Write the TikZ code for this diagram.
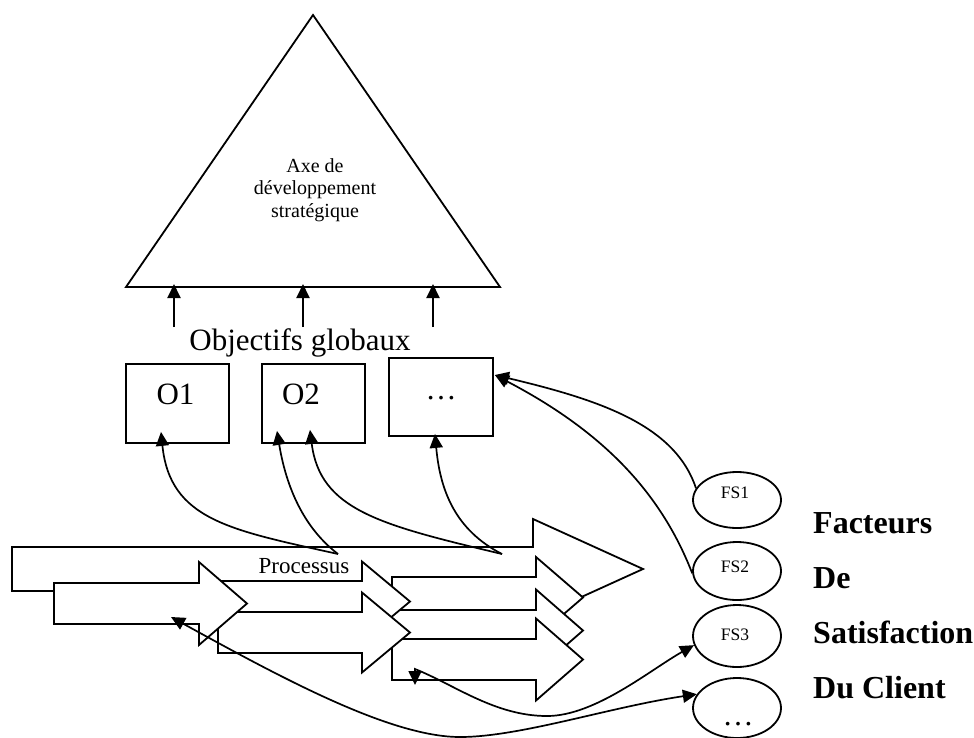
\documentclass[tikz,border=0pt]{standalone}
\usepackage{fontspec}
\setmainfont{Liberation Serif}
\usetikzlibrary{arrows.meta,shapes.geometric,calc}

% font sizes (1pt = 1px of the drawing)
\newcommand\axefont{\fontsize{20}{22.5}\selectfont}
\newcommand\bigfont{\fontsize{31}{34}\selectfont}
\newcommand\procfont{\fontsize{23}{26}\selectfont}
\newcommand\fsfont{\fontsize{17.5}{20}\selectfont}
\newcommand\sidefont{\fontsize{32}{36}\selectfont\bfseries}

% one block arrow: left x, centre y, half body height, notch x, half head height, tip x
\newcommand\flowarrow[6]{%
  \draw[procshape] (#1,#2-#3) -- (#4,#2-#3) -- (#4,#2-#5) -- (#6,#2)
     -- (#4,#2+#5) -- (#4,#2+#3) -- (#1,#2+#3) -- cycle;}

\tikzset{
  outline/.style={draw, line width=1.8pt, line join=miter},
  procshape/.style={outline, fill=white},
  objbox/.style={outline, rectangle, inner sep=0pt, fill=white},
  fsell/.style={outline, ellipse, inner sep=0pt, fill=white, minimum width=88pt},
  link/.style={draw, line width=1.7pt, -{Triangle[length=14pt,width=13pt]}},
  bilink/.style={draw, line width=1.7pt,
     {Triangle[length=14pt,width=13pt]}-{Triangle[length=14pt,width=13pt]}},
  uparrow/.style={draw, line width=1.9pt, -{Triangle[length=14pt,width=13pt]}},
  txt/.style={inner sep=0pt, anchor=base},
}

\begin{document}
\begin{tikzpicture}[x=1pt,y=-1pt]
\useasboundingbox (0,0) rectangle (974,737);
\fill[white] (0,0) rectangle (974,737);

% strategic triangle
\coordinate (apex) at (313,15);
\coordinate (baseL) at (126,287);
\coordinate (baseR) at (500,287);
\draw[outline] (baseL) -- (apex) -- (baseR) -- cycle;
\node[align=center, font=\axefont] (axe) at (315,190)
  {Axe de\\développement\\stratégique};

% objectives feeding the triangle
\foreach \i/\x in {1/174,2/303,3/433}{
  \coordinate (up\i) at (\x,327);
  \coordinate (in\i) at (\x,284);
  \draw[uparrow] (up\i) -- (in\i);
}
\node[txt, font=\bigfont] (og) at (300,350) {Objectifs globaux};

\node[objbox, minimum width=103pt, minimum height=79pt] (O1) at (177.5,403.5) {};
\node[objbox, minimum width=103pt, minimum height=79pt] (O2) at (313.5,403.5) {};
\node[objbox, minimum width=104pt, minimum height=78pt] (O3) at (441,397) {};
\node[txt, font=\bigfont] (O1t) at (175.5,404) {O1};
\node[txt, font=\bigfont] (O2t) at (301,404) {O2};
\node[txt, font=\bigfont] (O3t) at (441,399) {…};

% process arrows, back to front
\flowarrow{12}{569}{22}{533}{50}{643}
\flowarrow{392}{597.5}{20.5}{536}{40.5}{583}
\flowarrow{392}{630.5}{20.5}{536}{41}{583}
\flowarrow{392}{659.5}{20.5}{536}{41}{583}
\flowarrow{218}{601.5}{20.5}{362}{40}{410}
\flowarrow{218}{632.5}{20.5}{362}{40}{410}
\flowarrow{54}{603.5}{20.5}{199}{41.5}{247}
\node[txt, font=\procfont] (proc) at (304,573) {Processus};

% satisfaction factors
\node[fsell, minimum height=56pt] (FS1) at (737,500) {};
\node[fsell, minimum height=58pt] (FS2) at (737,571) {};
\node[fsell, minimum height=62pt] (FS3) at (737,636) {};
\node[fsell, minimum height=60pt] (FS4) at (737,708) {};
\node[txt, font=\fsfont] (FS1t) at (735,498) {FS1};
\node[txt, font=\fsfont] (FS2t) at (735,572) {FS2};
\node[txt, font=\fsfont] (FS3t) at (735,640) {FS3};
\node[txt, font=\bigfont] (FS4t) at (738,725) {…};

\node[txt, anchor=base west, font=\sidefont] (l1) at (813,533) {Facteurs};
\node[txt, anchor=base west, font=\sidefont] (l2) at (813,588) {De};
\node[txt, anchor=base west, font=\sidefont] (l3) at (813,643) {Satisfaction};
\node[txt, anchor=base west, font=\sidefont] (l4) at (813,698) {Du Client};

% links between processes, objectives and factors
\coordinate (pa) at (338,554);
\coordinate (pb) at (502,554);
\coordinate (o1in) at ($(O1.south)+(-16.5,-12)$);
\coordinate (o2in) at ($(O2.south)+(-36.5,-13)$);
\coordinate (o2inb) at ($(O2.south)+(-3.5,-14)$);
\coordinate (o3in) at ($(O3.south)+(-6,-3)$);
\coordinate (o3side) at ($(O3.east)+(1,-22)$);
\coordinate (t7) at (415,685);
\coordinate (h7) at (415,669);
\coordinate (b7) at (547,716);
\coordinate (t8) at (171,617);
\coordinate (b8) at (460,737);

\draw[link] (pa) .. controls (230,530) and (170,520) .. (o1in);
\draw[link] (pa) .. controls (300,525) and (285,480) .. (o2in);
\draw[link] (pb) .. controls (380,525) and (320,510) .. (o2inb);
\draw[link] (pb) .. controls (455,530) and (440,490) .. (o3in);
\draw[link] (FS1.164) .. controls (675,425) and (600,400) .. (o3side);
\draw[link] (FS2.183) .. controls (660,490) and (600,430) .. (o3side);
\draw[bilink] (t7) -- (h7) .. controls (455,685) and (495,716) .. (b7)
   .. controls (595,716) and (650,670) .. (FS3.192);
\draw[bilink] (t8) .. controls (280,677) and (390,737) .. (b8)
   .. controls (520,737) and (610,707) .. (FS4.161);
\end{tikzpicture}
\end{document}
